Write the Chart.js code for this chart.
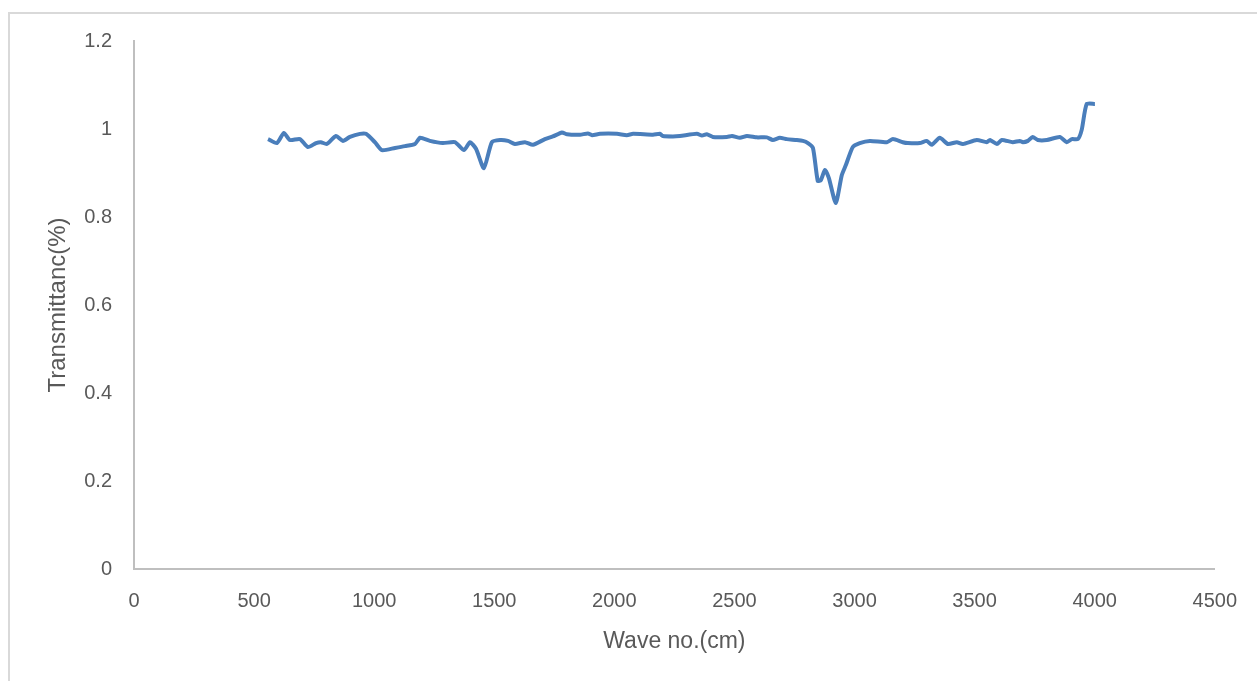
<!DOCTYPE html>
<html>
<head>
<meta charset="utf-8">
<script src="https://cdn.jsdelivr.net/npm/chart.js@4"></script>
<style>
  html, body { margin: 0; padding: 0; background: #fff; overflow: hidden; }
  #frame { position: absolute; left: 8px; top: 12px; width: 1300px; height: 720px; border: 2px solid #d9d9d9; box-sizing: border-box; }
  #wrap { position: absolute; left: 0; top: 0; width: 1257px; height: 681px; }
</style>
</head>
<body>
<div id="frame"></div>
<div id="wrap"><canvas id="ftirChart" width="1257" height="681"></canvas></div>
<script>
// FTIR spectrum
const waveNumbers = [558, 595, 624, 649, 691, 724, 758, 778, 803, 841, 870, 899, 941, 966, 1003, 1032, 1087, 1128, 1170, 1191,
    1232, 1286, 1336, 1374, 1399, 1424, 1457, 1490, 1524, 1557, 1586, 1628, 1661, 1711, 1744, 1782, 1803, 1857, 1890, 1907,
    1940, 2011, 2052, 2078, 2161, 2190, 2202, 2244, 2273, 2344, 2365, 2385, 2410, 2469, 2490, 2523, 2552, 2594, 2635, 2660,
    2689, 2718, 2760, 2785, 2806, 2827, 2847, 2860, 2877, 2893, 2922, 2947, 2964, 2993, 3022, 3064, 3135, 3160, 3201, 3222,
    3272, 3301, 3322, 3355, 3389, 3426, 3451, 3509, 3551, 3564, 3593, 3613, 3659, 3688, 3701, 3722, 3742, 3763, 3801, 3855,
    3884, 3905, 3930, 3946, 3967, 4001];
const transmittance = [0.977, 0.968, 0.991, 0.975, 0.977, 0.959, 0.968, 0.970, 0.966, 0.984, 0.973, 0.982, 0.989, 0.989, 0.970, 0.952, 0.957, 0.961, 0.966, 0.980,
    0.973, 0.968, 0.970, 0.952, 0.970, 0.955, 0.911, 0.970, 0.975, 0.973, 0.966, 0.970, 0.964, 0.977, 0.983, 0.992, 0.988, 0.987, 0.990, 0.986,
    0.989, 0.989, 0.986, 0.989, 0.987, 0.989, 0.984, 0.983, 0.984, 0.989, 0.985, 0.988, 0.982, 0.982, 0.984, 0.980, 0.984, 0.981, 0.981, 0.975,
    0.980, 0.977, 0.975, 0.973, 0.968, 0.957, 0.882, 0.884, 0.907, 0.889, 0.832, 0.895, 0.918, 0.959, 0.968, 0.973, 0.970, 0.977, 0.970, 0.968,
    0.968, 0.973, 0.964, 0.980, 0.966, 0.970, 0.966, 0.975, 0.970, 0.975, 0.966, 0.975, 0.970, 0.973, 0.970, 0.973, 0.982, 0.975, 0.975, 0.982,
    0.970, 0.977, 0.977, 0.998, 1.057, 1.057];
const xTicks = [0, 500, 1000, 1500, 2000, 2500, 3000, 3500, 4000, 4500];
const yTicks = [0, 0.2, 0.4, 0.6, 0.8, 1, 1.2];

const textColor = '#595959';
const axisColor = '#bfbfbf';
const tickFont = { family: 'Liberation Sans', size: 20 };

const points = waveNumbers.map((w, i) => ({ x: w, y: transmittance[i] }));

const ctx = document.getElementById('ftirChart').getContext('2d');
const ftirChart = new Chart(ctx, {
    type: 'line',
    data: {
        datasets: [{
            data: points,
            borderColor: '#4a7ebb',
            borderWidth: 4,
            pointRadius: 0,
            tension: 0.2,
            fill: false
        }]
    },
    options: {
        responsive: false,
        animation: false,
        layout: { padding: { left: 44, top: 41, right: 42, bottom: 22 } },
        scales: {
            x: {
                type: 'linear',
                min: xTicks[0],
                max: xTicks[xTicks.length - 1],
                afterBuildTicks: function(scale) { scale.ticks = xTicks.map(v => ({ value: v })); },
                afterFit: function(scale) { scale.height = 681 - 569 - 22; },
                grid: { display: false, drawTicks: false },
                border: { display: true, color: axisColor, width: 2 },
                ticks: {
                    color: textColor, font: tickFont, padding: 20, maxRotation: 0,
                    callback: function(value) { return String(value); }
                },
                title: { display: true, text: 'Wave no.(cm)', color: textColor, font: { family: 'Liberation Sans', size: 23 }, padding: { top: 8 } }
            },
            y: {
                min: yTicks[0],
                max: yTicks[yTicks.length - 1],
                afterBuildTicks: function(scale) { scale.ticks = yTicks.map(v => ({ value: v })); },
                afterFit: function(scale) { scale.width = 134 - 44; },
                grid: { display: false, drawTicks: false },
                border: { display: true, color: axisColor, width: 2 },
                ticks: {
                    color: textColor, font: tickFont, padding: 22,
                    callback: function(value) { return String(+value.toFixed(1)); }
                },
                title: { display: true, text: 'Transmittanc(%)', color: textColor, font: { family: 'Liberation Sans', size: 24 }, padding: 0 }
            }
        },
        plugins: {
            legend: { display: false },
            tooltip: { enabled: false }
        }
    }
});
</script>
</body>
</html>
